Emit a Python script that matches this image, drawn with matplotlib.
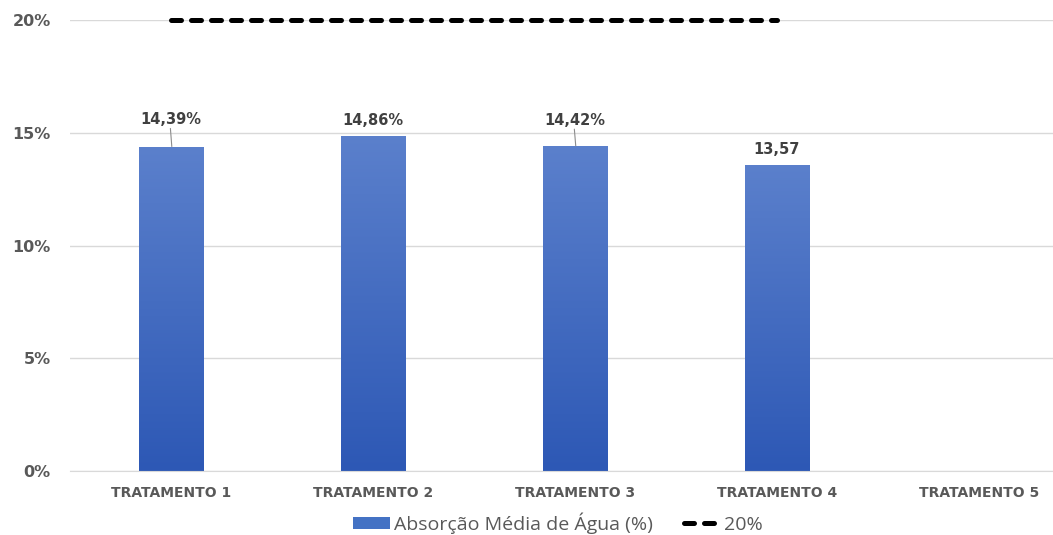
import numpy as np
import matplotlib.pyplot as plt
from matplotlib.colors import LinearSegmentedColormap

# Dados do gráfico
tratamentos = ["TRATAMENTO 1", "TRATAMENTO 2", "TRATAMENTO 3", "TRATAMENTO 4", "TRATAMENTO 5"]
absorcao = [14.39, 14.86, 14.42, 13.57, np.nan]
rotulos = ["14,39%", "14,86%", "14,42%", "13,57", ""]
limite = [20, 20, 20, 20, np.nan]

# deslocamento dos rótulos acima da barra (pontos) e se há linha de chamada
desloc_rotulo = [14, 6, 13, 6, 0]
linha_chamada = [True, False, True, False, False]

cinza_texto = "#595959"
cinza_grade = "#d9d9d9"

fig = plt.figure(figsize=(10.53, 5.35), dpi=100)
ax = fig.add_axes([70 / 1053, 64 / 535, 1 - 70 / 1053, (471 - 20) / 535])

x = np.arange(len(tratamentos))
largura = 0.32

# barras com gradiente vertical (mais claro no topo)
grad = LinearSegmentedColormap.from_list("azul", ["#2d58b5", "#5b80cc"])
barras = ax.bar(x, absorcao, width=largura, color="#4472c4", zorder=2)
for b in barras:
    h = b.get_height()
    if np.isnan(h):
        continue
    x0 = b.get_x()
    img = ax.imshow(np.linspace(0, 1, 256).reshape(-1, 1), cmap=grad, origin="lower",
                    extent=[x0, x0 + b.get_width(), 0, h], aspect="auto", zorder=2.1)
    img.set_clip_path(b)

# linha de referência de 20%
ax.plot(x, limite, color="black", lw=3.6, linestyle=(0, (2, 2)),
        dash_capstyle="round", zorder=4, clip_on=False, label="20%")

# rótulos de dados
for xi, v, txt, d, lc in zip(x, absorcao, rotulos, desloc_rotulo, linha_chamada):
    if not txt:
        continue
    ax.annotate(txt, xy=(xi, v), xytext=(0, d), textcoords="offset points",
                ha="center", va="bottom", fontsize=10.5, fontweight="bold",
                color="#404040", zorder=5)
    if lc:
        # linha de chamada entre o topo da barra e o rótulo
        ax.annotate("", xy=(xi + 0.004, v), xytext=(-1, d - 1),
                    textcoords="offset points",
                    arrowprops=dict(arrowstyle="-", color="#8c8c8c", lw=0.8,
                                    shrinkA=0, shrinkB=0),
                    zorder=5)

ax.set_xlim(-0.5, 4.367)
ax.set_ylim(0, 20)
ax.set_yticks([0, 5, 10, 15, 20])
ax.set_yticklabels(["0%", "5%", "10%", "15%", "20%"])
ax.set_xticks(x)
ax.set_xticklabels(tratamentos)

ax.grid(axis="y", color=cinza_grade, lw=1, zorder=0)
ax.set_axisbelow(True)
for s in ["top", "right", "left"]:
    ax.spines[s].set_visible(False)
ax.spines["bottom"].set_color(cinza_grade)
ax.tick_params(axis="both", length=0)
ax.tick_params(axis="y", pad=14, labelsize=11.5, labelcolor=cinza_texto)
ax.tick_params(axis="x", pad=11, labelsize=10, labelcolor=cinza_texto)
for t in ax.get_yticklabels():
    t.set_fontweight("bold")
for t in ax.get_xticklabels():
    t.set_fontweight("bold")

leg = fig.legend(handles=[barras, ax.lines[0]],
                 labels=["Absorção Média de Água (%)", "20%"],
                 loc="center", bbox_to_anchor=(558 / 1053, 1 - 523 / 535),
                 ncol=2, frameon=False, fontsize=14, handlelength=1.9,
                 handleheight=0.55, columnspacing=1.6, handletextpad=0.2,
                 labelcolor=cinza_texto)
for t in leg.get_texts():
    t.set_fontfamily("Open Sans")

fig.savefig("out.png", dpi=100)
